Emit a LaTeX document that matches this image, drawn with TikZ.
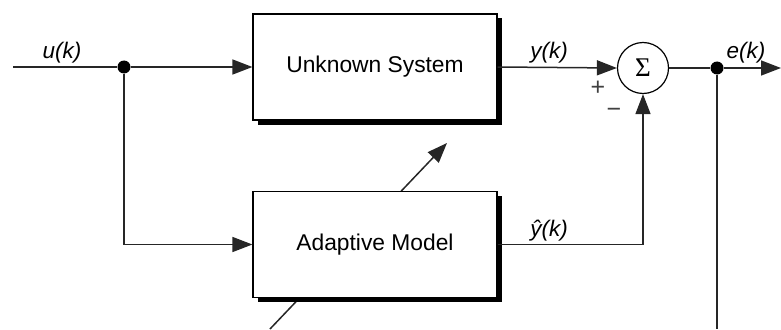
\documentclass[tikz,border=0pt]{standalone}
\usepackage{fontspec}
\setmainfont{Liberation Sans}
\newfontfamily\sigmafont{Liberation Serif}
\usetikzlibrary{arrows.meta,shadows}
\begin{document}
\begin{tikzpicture}[x=1pt,y=-1pt,
  conn/.style={line width=1.5pt, draw=black!85},
  arr/.style={conn, -{Triangle[length=20pt,width=15pt]}},
  blk/.style={draw, line width=1.2pt, fill=white, minimum width=244pt, minimum height=106pt,
    inner sep=0pt, font=\fontsize{22.8}{26}\selectfont,
    drop shadow={shadow xshift=4.5pt, shadow yshift=-4.5pt, fill=black, opacity=1}},
  dot/.style={circle, fill=black, minimum size=13pt, inner sep=0pt},
  lbl/.style={font=\fontsize{22.5}{26}\selectfont\itshape, anchor=base, inner sep=0pt},
  sgn/.style={font=\fontsize{25}{28}\selectfont, text=black!75, inner sep=0pt}
]
\useasboundingbox (0,0) rectangle (781,329);
% diagonal adaptation arrow (behind the adaptive model box)
\coordinate (d1) at (270,329);
\coordinate (d2) at (447,143);
\draw[arr] (d1) -- (d2);

\node[blk] (us) at (375,67) {Unknown System};
\node[blk] (am) at (375,244.5) {Adaptive Model};
\node[circle, draw, line width=1.2pt, minimum size=51pt, inner sep=0pt, fill=white] (sum) at (643,68)
  {\sigmafont\fontsize{27}{30}\selectfont Σ};

\coordinate (in) at (13,67);
\node[dot] (j1) at (124,67) {};
\node[dot] (j2) at (717,68) {};
\coordinate (out) at (781,68);
\coordinate (down) at (717,329);
\coordinate (c1) at (124,244.5);
\coordinate (c2) at (643,244.5);

\draw[conn] (in) -- (j1);
\draw[arr] (j1) -- (us.west);
\draw[arr] (j1) -- (c1) -- (am.west);
\draw[arr] (us.east) -- (sum.west);
\draw[arr] (am.east) -- (c2) -- (sum.south);
\draw[conn] (sum.east) -- (j2);
\draw[arr] (j2) -- (out);
\draw[conn] (j2) -- (down);

\node[lbl] (lu) at (62,59) {u(k)};
\node[lbl] (ly) at (549,59) {y(k)};
\node[lbl] (le) at (746,59) {e(k)};
\node[lbl] (lyh) at (549,236) {ŷ(k)};
\node[sgn] (plus) at (598,88) {+};
\node[sgn] (minus) at (614,113) {−};
\end{tikzpicture}
\end{document}
